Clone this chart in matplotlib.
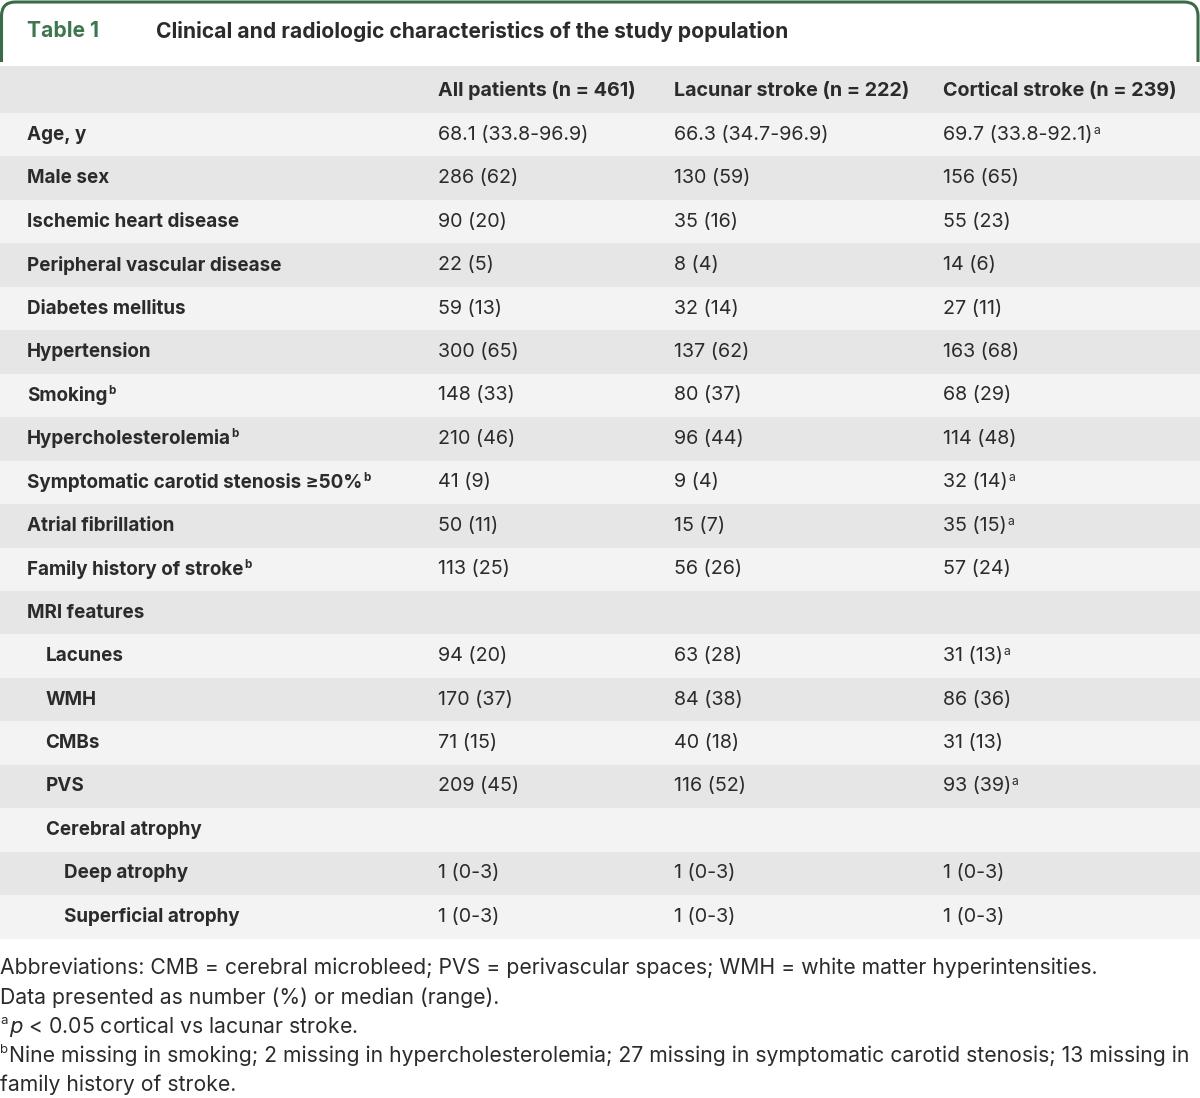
import matplotlib
matplotlib.use("Agg")
import matplotlib.pyplot as plt
from matplotlib.path import Path
from matplotlib.patches import PathPatch, Rectangle

FAM = ["Inter", "DejaVu Sans"]

title_label = "Table 1"
title_text = "Clinical and radiologic characteristics of the study population"
col_headers = ["All patients (n = 461)", "Lacunar stroke (n = 222)", "Cortical stroke (n = 239)"]

row_labels = ["Age, y", "Male sex", "Ischemic heart disease", "Peripheral vascular disease",
              "Diabetes mellitus", "Hypertension", "Smoking", "Hypercholesterolemia",
              "Symptomatic carotid stenosis \u226550%", "Atrial fibrillation",
              "Family history of stroke", "MRI features", "Lacunes", "WMH", "CMBs", "PVS",
              "Cerebral atrophy", "Deep atrophy", "Superficial atrophy"]
row_label_sup = ["", "", "", "", "", "", "b", "b", "b", "", "b", "", "", "", "", "", "", "", ""]
row_indent = [0, 0, 0, 0, 0, 0, 0, 0, 0, 0, 0, 0, 1, 1, 1, 1, 1, 2, 2]

all_patients = ["68.1 (33.8-96.9)", "286 (62)", "90 (20)", "22 (5)", "59 (13)", "300 (65)",
                "148 (33)", "210 (46)", "41 (9)", "50 (11)", "113 (25)", "", "94 (20)",
                "170 (37)", "71 (15)", "209 (45)", "", "1 (0-3)", "1 (0-3)"]
lacunar = ["66.3 (34.7-96.9)", "130 (59)", "35 (16)", "8 (4)", "32 (14)", "137 (62)",
           "80 (37)", "96 (44)", "9 (4)", "15 (7)", "56 (26)", "", "63 (28)", "84 (38)",
           "40 (18)", "116 (52)", "", "1 (0-3)", "1 (0-3)"]
cortical = ["69.7 (33.8-92.1)", "156 (65)", "55 (23)", "14 (6)", "27 (11)", "163 (68)",
            "68 (29)", "114 (48)", "32 (14)", "35 (15)", "57 (24)", "", "31 (13)", "86 (36)",
            "31 (13)", "93 (39)", "", "1 (0-3)", "1 (0-3)"]
cortical_sup = ["a", "", "", "", "", "", "", "", "a", "a", "", "", "a", "", "", "a", "", "", ""]

footnotes = [
    ("", "Abbreviations: CMB = cerebral microbleed; PVS = perivascular spaces; WMH = white matter hyperintensities."),
    ("", "Data presented as number (%) or median (range)."),
    ("a", "$p$ < 0.05 cortical vs lacunar stroke."),
    ("b", "Nine missing in smoking; 2 missing in hypercholesterolemia; 27 missing in symptomatic carotid stenosis; 13 missing in"),
    ("", "family history of stroke."),
]

W, H = 1200, 1098
fig = plt.figure(figsize=(W / 100, H / 100), dpi=100)
ax = fig.add_axes([0, 0, 1, 1])
ax.set_xlim(0, W)
ax.set_ylim(H, 0)
ax.axis("off")
fig.canvas.draw()
renderer = fig.canvas.get_renderer()
inv = ax.transData.inverted()


def width_px(s, size, weight):
    t = ax.text(0, 0, s, fontsize=size, fontweight=weight, family=FAM)
    w = t.get_window_extent(renderer).width
    t.remove()
    return w


def fit(s, target, weight):
    return 10.0 * target / width_px(s, 10.0, weight)


FS = fit(row_labels[8], 336, "bold")
FS_HEAD = fit(col_headers[0], 198, "bold")
FS_VAL = fit(all_patients[0], 153, "normal")
FS_FOOT = min(fit(footnotes[0][1], 1101, "normal"), fit(footnotes[3][1], 1188, "normal"))
FS_TITLE = fit(title_text, 630, "bold")

TXT = "#2b2b2b"
GREEN = "#3e7650"
BORDER = "#3b6b46"
DARK = "#e6e6e6"
LIGHT = "#f3f3f3"

# title border (open at bottom)
r = 14
verts = [(1.5, 62), (1.5, 2 + r), (1.5, 2), (1.5 + r, 2), (W - 2 - r, 2), (W - 2, 2),
         (W - 2, 2 + r), (W - 2, 62)]
codes = [Path.MOVETO, Path.LINETO, Path.CURVE3, Path.CURVE3, Path.LINETO, Path.CURVE3,
         Path.CURVE3, Path.LINETO]
ax.add_patch(PathPatch(Path(verts, codes), fill=False, edgecolor=BORDER, lw=2.2))

ax.text(27, 31, title_label, color=GREEN, fontsize=FS_TITLE, fontweight="bold", family=FAM,
        va="center", ha="left")
ax.text(156, 31, title_text, color=TXT, fontsize=FS_TITLE, fontweight="bold", family=FAM,
        va="center", ha="left")

# header band
top = 66
row_h = 43.45
ax.add_patch(Rectangle((0, top), W, 47, facecolor=DARK, edgecolor="none"))
col_x = [438, 674, 943]
for x, h in zip(col_x, col_headers):
    ax.text(x, top + 25, h, color=TXT, fontsize=FS_HEAD, fontweight="bold", family=FAM,
            va="center", ha="left")


def sup_after(t, s, bold, size):
    bb = t.get_window_extent(renderer)
    x1 = inv.transform((bb.x1, bb.y1))
    ax.text(x1[0] + 0.5, x1[1] - 1, s, color=TXT, fontsize=size * 0.62,
            fontweight="bold" if bold else "normal", family=FAM, va="top", ha="left")


y0 = top + 47
for i, lab in enumerate(row_labels):
    yc = y0 + i * row_h + row_h / 2
    ax.add_patch(Rectangle((0, y0 + i * row_h), W, row_h,
                           facecolor=DARK if i % 2 else LIGHT, edgecolor="none"))
    t = ax.text(27 + 18.5 * row_indent[i], yc, lab, color=TXT, fontsize=FS,
                fontweight="bold", family=FAM, va="center", ha="left")
    if row_label_sup[i]:
        sup_after(t, row_label_sup[i], True, FS)
    for x, col in zip(col_x, [all_patients, lacunar, cortical]):
        tt = ax.text(x, yc, col[i], color=TXT, fontsize=FS_VAL, family=FAM,
                     va="center", ha="left")
        if col is cortical and cortical_sup[i]:
            sup_after(tt, cortical_sup[i], False, FS_VAL)

fy = 968
for j, (s, line) in enumerate(footnotes):
    y = fy + j * 29.3
    x = 0
    if s:
        ax.text(0, y - 6, s, color=TXT, fontsize=FS_FOOT * 0.62, family=FAM,
                va="center", ha="left")
        x = 9
    ax.text(x, y, line, color=TXT, fontsize=FS_FOOT, family=FAM, va="center", ha="left")

fig.savefig("out.png", dpi=100)
